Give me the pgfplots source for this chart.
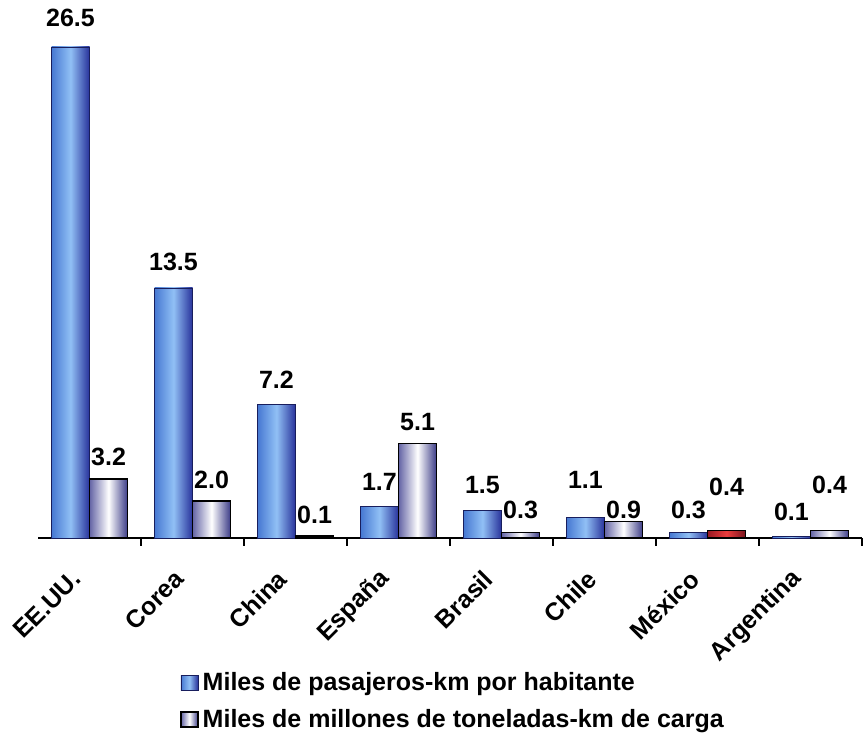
\documentclass[border=0pt]{standalone}
\usepackage{fontspec}
\setmainfont{Liberation Sans}
\usepackage{pgfplots}
\usepackage{pgfplotstable}
\pgfplotsset{compat=1.18}
\definecolor{bL}{RGB}{70,120,210}
\definecolor{bM}{RGB}{145,192,245}
\definecolor{bR}{RGB}{40,50,155}
\definecolor{wL}{RGB}{100,100,165}
\definecolor{wM}{RGB}{255,255,255}
\definecolor{wR}{RGB}{60,60,135}
\definecolor{rL}{RGB}{150,25,35}
\definecolor{rM}{RGB}{235,60,60}
\definecolor{rR}{RGB}{120,20,30}
\newcommand{\lbl}{\fontsize{12.5}{15}\selectfont\bfseries}

\pgfplotstableread{
x y lab
-0.185 28.06 26.5
0.185 4.37 3.2
0.815 14.9 13.5
1.185 3.13 2.0
1.815 8.53 7.2
2.185 1.24 0.1
2.815 3.02 1.7
3.185 6.26 5.1
3.815 2.86 1.5
4.185 1.51 0.3
4.815 3.13 1.1
5.185 1.51 0.9
5.815 1.51 0.3
6.185 2.75 0.4
6.815 1.40 0.1
7.185 2.86 0.4
}\etiquetas

\begin{document}
\begin{tikzpicture}
\begin{axis}[
  scale only axis, width=412pt, height=245.5pt,
  xmin=-0.5, xmax=7.5, ymin=0, ymax=26.5,
  clip=false,
  axis x line=bottom, axis y line=none,
  x axis line style={-},
  axis line style={line width=1pt, black},
  xtick={0,...,7},
  xticklabels={EE.UU.,Corea,China,España,Brasil,Chile,México,Argentina},
  minor xtick={0.5,1.5,...,7.5},
  major tick length=0pt, minor tick length=4pt,
  tick align=outside,
  tick style={black, line width=0.8pt},
  xticklabel style={font=\lbl, yshift=-16pt, xshift=-4pt, rotate=45, anchor=east},
  legend cell align=left,
  legend style={at={(0.172,-0.265)}, anchor=north west, draw=none, fill=none,
    font=\lbl, row sep=4pt, inner sep=0pt},
  legend image code/.code={\draw[#1] (0pt,-3.5pt) rectangle (8.5pt,4pt);},
  pas/.style={ybar, bar width=19pt, bar shift=-9.5pt, draw=bR!60!black, line width=0.3pt,
    left color=bL, right color=bR, middle color=bM},
  car/.style={ybar, bar width=19pt, bar shift=9.5pt, draw=black, line width=0.8pt,
    left color=wL, right color=wR, middle color=wM},
  carmx/.style={ybar, bar width=19pt, bar shift=9.5pt, draw=black, line width=0.8pt,
    left color=rL, right color=rR, middle color=rM},
]
% Miles de pasajeros-km por habitante
\addplot[pas] coordinates {(0,26.5)};
\addlegendentry{Miles de pasajeros-km por habitante}
\addplot[car] coordinates {(0,3.2)};
\addlegendentry{Miles de millones de toneladas-km de carga}
\addplot[pas, forget plot] coordinates {(1,13.5)};
\addplot[pas, forget plot] coordinates {(2,7.2)};
\addplot[pas, forget plot] coordinates {(3,1.7)};
\addplot[pas, forget plot] coordinates {(4,1.5)};
\addplot[pas, forget plot] coordinates {(5,1.1)};
\addplot[pas, forget plot] coordinates {(6,0.3)};
\addplot[pas, forget plot] coordinates {(7,0.1)};
% Miles de millones de toneladas-km de carga
\addplot[car, forget plot] coordinates {(1,2.0)};
\addplot[car, forget plot] coordinates {(2,0.1)};
\addplot[car, forget plot] coordinates {(3,5.1)};
\addplot[car, forget plot] coordinates {(4,0.3)};
\addplot[car, forget plot] coordinates {(5,0.9)};
\addplot[carmx, forget plot] coordinates {(6,0.4)};
\addplot[car, forget plot] coordinates {(7,0.4)};
% etiquetas de valores
\addplot[draw=none, mark=none, forget plot, nodes near coords, point meta=explicit symbolic,
  nodes near coords style={anchor=center, font=\lbl, inner sep=0pt}]
  table[x=x,y=y,meta=lab] {\etiquetas};
\end{axis}
\path ([shift={(-19pt,-102pt)}]current axis.south west) rectangle ++(433pt,371pt);
\end{tikzpicture}
\end{document}
